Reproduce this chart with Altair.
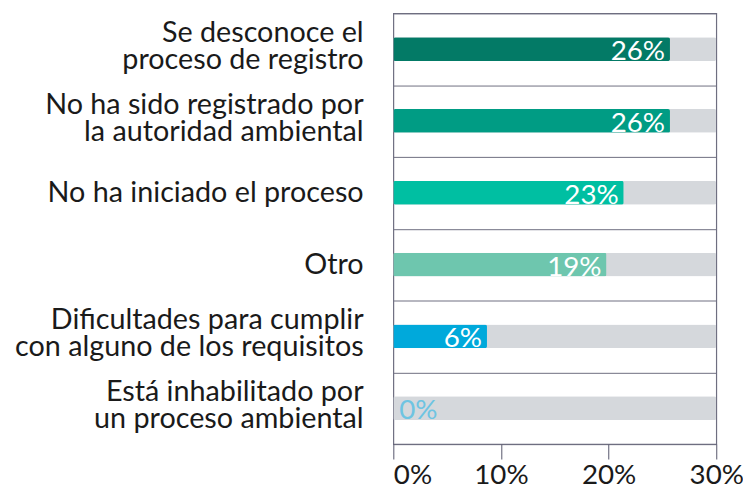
import altair as alt
import pandas as pd

categories = [
    "Se desconoce el|proceso de registro",
    "No ha sido registrado por|la autoridad ambiental",
    "No ha iniciado el proceso",
    "Otro",
    "Dificultades para cumplir|con alguno de los requisitos",
    "Está inhabilitado por|un proceso ambiental",
]
bar_values = [25.7, 25.7, 21.4, 19.8, 8.7, 0.0]
label_texts = ["26%", "26%", "23%", "19%", "6%", "0%"]
bar_colors = ["#037A66", "#009C84", "#00BFA2", "#6EC6AE", "#00A9DB", "#6EC4E2"]
axis_max = 30
x_ticks = [0, 10, 20, 30]

df = pd.DataFrame({
    "cat": categories,
    "value": bar_values,
    "label": label_texts,
    "bg": [axis_max] * len(categories),
})

FONT = "Lato"
GRID = "#6E6E80"

y_enc = alt.Y(
    "cat:N",
    sort=categories,
    title=None,
    scale=alt.Scale(paddingInner=0, paddingOuter=0),
    axis=alt.Axis(
        labels=False,
        ticks=False,
        domain=False,
        grid=True,
        tickBand="extent",
        gridColor=GRID,
        gridWidth=1,
        gridOpacity=1,
    ),
)

x_scale = alt.Scale(domain=[0, axis_max], nice=False)
x_axis = alt.Axis(
    values=x_ticks,
    labelExpr="datum.value + '%'",
    labelFont=FONT,
    labelFontSize=28,
    labelColor="#1a1a1a",
    labelAlign=alt.ConditionalAxisLabelAlign(
        condition={"test": "datum.value == 0", "value": "left"}, value="center"
    ),
    labelFlush=False,
    labelPadding=3,
    tickSize=15,
    tickColor="#55556A",
    domain=False,
    grid=False,
    title=None,
)

bg = alt.Chart(df).mark_bar(color="#D5D8DC", size=24, cornerRadius=2).encode(
    y=y_enc,
    x=alt.X("bg:Q", scale=x_scale, axis=x_axis),
)

bars = alt.Chart(df).mark_bar(size=24, cornerRadius=2).encode(
    y=alt.Y("cat:N", sort=categories),
    x=alt.X("value:Q", scale=x_scale),
    color=alt.Color("cat:N", scale=alt.Scale(domain=categories, range=bar_colors), legend=None),
)

labels_in = alt.Chart(df).transform_filter("datum.value > 0").mark_text(
    align="right", baseline="alphabetic", dx=-5, dy=11,
    font=FONT, fontSize=28, fontWeight="normal", color="white",
).encode(
    y=alt.Y("cat:N", sort=categories),
    x=alt.X("value:Q", scale=x_scale),
    text="label:N",
)

labels_zero = alt.Chart(df).transform_filter("datum.value == 0").mark_text(
    align="left", baseline="alphabetic", dx=6, dy=11,
    font=FONT, fontSize=28, fontWeight="normal", color="#6EC4E2",
).encode(
    y=alt.Y("cat:N", sort=categories),
    x=alt.X("value:Q", scale=x_scale),
    text="label:N",
)

cat_base = alt.Chart(df).transform_calculate(
    lines="split(datum.cat, '|')", zero="0"
)

cat_two = cat_base.transform_filter("length(datum.lines) > 1").mark_text(
    align="right", baseline="middle", dx=-30, dy=-16, lineHeight=27,
    font=FONT, fontSize=29, color="#1a1a1a",
).encode(
    y=alt.Y("cat:N", sort=categories),
    x=alt.X("zero:Q", scale=x_scale),
    text=alt.Text("lines:N"),
)

cat_one = cat_base.transform_filter("length(datum.lines) == 1").mark_text(
    align="right", baseline="middle", dx=-30, dy=0,
    font=FONT, fontSize=29, color="#1a1a1a",
).encode(
    y=alt.Y("cat:N", sort=categories),
    x=alt.X("zero:Q", scale=x_scale),
    text=alt.Text("cat:N"),
)

chart = alt.layer(bg, bars, labels_in, labels_zero, cat_two, cat_one).properties(
    width=326,
    height=435,
    autosize=alt.AutoSizeParams(type="none"),
    padding={"left": 389, "top": 3, "right": 27, "bottom": 45},
).configure_view(stroke=GRID, strokeWidth=1.2, clip=False)

chart.save("out.html", embed_options={"renderer": "svg", "actions": False})
